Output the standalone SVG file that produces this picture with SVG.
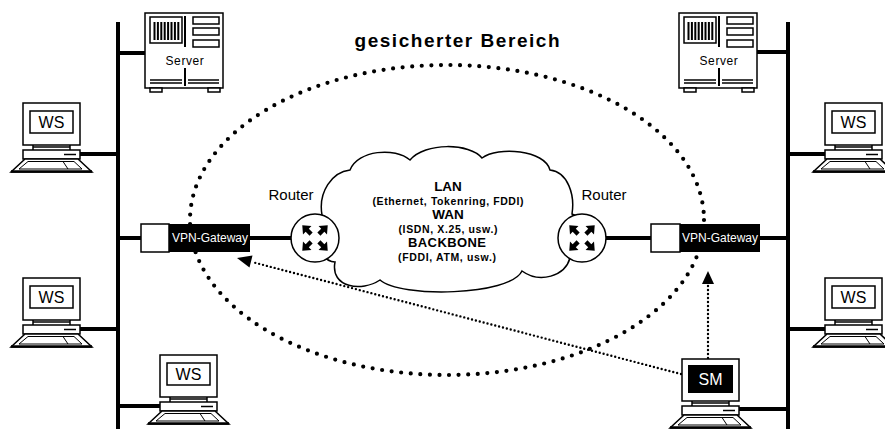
<svg xmlns="http://www.w3.org/2000/svg" xmlns:xlink="http://www.w3.org/1999/xlink" width="885" height="429" viewBox="0 0 885 429">
  <style>
    text { font-family: "Liberation Sans", Arial, sans-serif; fill: #000; }
    .bus { stroke: #000; stroke-width: 4; fill: none; }
    .link { stroke: #000; stroke-width: 4; fill: none; }
    .thin { stroke: #000; stroke-width: 1.5; fill: #fff; }
    .line { stroke: #000; stroke-width: 1.5; fill: none; }
    .lbl { font-size: 15px; text-anchor: middle; }
    .ws { font-size: 16px; text-anchor: middle; }
    .srv { font-size: 12px; text-anchor: middle; letter-spacing: 0.6px; }
    .gw { font-size: 12px; fill: #fff; text-anchor: middle; }
    .net { font-size: 13.5px; font-weight: bold; text-anchor: middle; }
    .netb { font-size: 13px; font-weight: bold; text-anchor: middle; }
    .netsub { font-size: 10.5px; font-weight: bold; text-anchor: middle; }
    .zone { stroke: #000; stroke-width: 4.2; fill: none; stroke-linecap: round; stroke-dasharray: 0 9.6; }
    .tunnel { stroke: #000; stroke-width: 2.4; fill: none; stroke-linecap: round; stroke-dasharray: 0 4; }
  </style>
  <defs>
    <!-- workstation: monitor, stand, base unit, keyboard (origin = monitor top-left) -->
    <g id="ws-body">
      <rect class="thin" x="0" y="0" width="57" height="42"/>
      <line class="line" x1="10" y1="42" x2="10" y2="47"/>
      <line class="line" x1="47" y1="42" x2="47" y2="47"/>
      <line class="line" x1="10" y1="44" x2="47" y2="44"/>
      <rect class="thin" x="0" y="47" width="57" height="9"/>
      <line stroke="#000" stroke-width="1.5" x1="41" y1="51.5" x2="53" y2="51.5"/>
      <polygon class="thin" points="2,56 55,56 69,69 -12,69"/>
      <polygon fill="none" stroke="#000" stroke-width="1" points="5,58.5 51,58.5 59,66 -4,66"/>
      <line stroke="#000" stroke-width="1" x1="40" y1="58.5" x2="45" y2="66"/>
      <line stroke="#000" stroke-width="2.5" x1="-12" y1="68.5" x2="69" y2="68.5"/>
    </g>
    <!-- server cabinet (origin = top-left) -->
    <g id="server-body">
      <rect class="thin" x="0" y="0" width="78" height="75"/>
      <rect class="thin" x="5" y="4" width="32" height="26"/>
      <g fill="#000">
        <rect x="8.5" y="9" width="2" height="18"/>
        <rect x="11.9" y="9" width="2" height="18"/>
        <rect x="15.3" y="9" width="2" height="18"/>
        <rect x="18.7" y="9" width="2" height="18"/>
        <rect x="22.1" y="9" width="2" height="18"/>
        <rect x="25.5" y="9" width="2" height="18"/>
        <rect x="28.9" y="9" width="2" height="18"/>
        <rect x="32.3" y="9" width="2" height="18"/>
      </g>
      <line stroke="#000" stroke-width="2" x1="40" y1="3" x2="40" y2="34"/>
      <line stroke="#000" stroke-width="2" x1="40" y1="55" x2="40" y2="73"/>
      <rect class="thin" x="48" y="4" width="26" height="7"/>
      <rect class="thin" x="48" y="15" width="26" height="7"/>
      <rect class="thin" x="48" y="27" width="26" height="7"/>
      <line stroke="#000" stroke-width="1.5" x1="5" y1="67" x2="37" y2="67"/>
      <line stroke="#000" stroke-width="1.5" x1="5" y1="70" x2="37" y2="70"/>
      <line stroke="#000" stroke-width="1.5" x1="43" y1="67" x2="74" y2="67"/>
      <line stroke="#000" stroke-width="1.5" x1="43" y1="70" x2="74" y2="70"/>
      <rect class="thin" x="5" y="75" width="12" height="4"/>
      <rect class="thin" x="63" y="75" width="12" height="4"/>
    </g>
    <!-- router symbol: circle with four outward arrows (origin = centre) -->
    <polygon id="r-arrow" fill="#000" points="5.5,-2.2 11,-2.2 11,-6 18,0 11,6 11,2.2 5.5,2.2"/>
    <g id="router-body">
      <circle class="thin" cx="0" cy="0" r="24"/>
      <use xlink:href="#r-arrow" transform="rotate(-45)"/>
      <use xlink:href="#r-arrow" transform="rotate(45)"/>
      <use xlink:href="#r-arrow" transform="rotate(135)"/>
      <use xlink:href="#r-arrow" transform="rotate(-135)"/>
    </g>
  </defs>

  <!-- secured area boundary -->
  <g id="secure-zone">
    <ellipse class="zone" cx="447" cy="220" rx="257" ry="155"/>
    <text x="457" y="47" font-size="19" font-weight="bold" text-anchor="middle" textLength="205" lengthAdjust="spacing">gesicherter Bereich</text>
  </g>

  <!-- network cloud -->
  <g id="network-cloud">
    <path class="thin" d="M 322,215 C 318,192 332,172 350,170 C 358,150 395,147 410,160 C 425,142 470,143 482,158 C 498,146 545,150 550,170 C 568,172 575,195 572,214 C 600,225 600,250 570,258 C 565,276 540,284 522,271 C 510,296 400,298 380,280 C 362,292 330,288 335,262 C 325,262 318,250 320,240 Z"/>
    <text class="net" x="448" y="191">LAN</text>
    <text class="netsub" x="448" y="205" textLength="151" lengthAdjust="spacing">(Ethernet, Tokenring, FDDI)</text>
    <text class="net" x="448" y="219">WAN</text>
    <text class="netsub" x="448" y="233" textLength="99" lengthAdjust="spacing">(ISDN, X.25, usw.)</text>
    <text class="netb" x="447" y="247" textLength="78" lengthAdjust="spacing">BACKBONE</text>
    <text class="netsub" x="447" y="261" textLength="98" lengthAdjust="spacing">(FDDI, ATM, usw.)</text>
  </g>

  <!-- connectors: buses, drops and tunnels -->
  <g id="connectors">
    <line class="bus" x1="118" y1="22" x2="118" y2="429"/>
    <line class="bus" x1="788" y1="22" x2="788" y2="429"/>
    <line class="link" x1="118" y1="53" x2="145" y2="53"/>
    <line class="link" x1="757" y1="52" x2="788" y2="52"/>
    <line class="link" x1="57" y1="154" x2="118" y2="154"/>
    <line class="link" x1="57" y1="329" x2="118" y2="329"/>
    <line class="link" x1="118" y1="406" x2="160" y2="406"/>
    <line class="link" x1="788" y1="154" x2="825" y2="154"/>
    <line class="link" x1="788" y1="329" x2="825" y2="329"/>
    <line class="link" x1="739" y1="409" x2="788" y2="409"/>
    <line class="link" x1="118" y1="238" x2="141" y2="238"/>
    <line class="link" x1="250" y1="238" x2="292" y2="238"/>
    <line class="link" x1="605" y1="238" x2="651" y2="238"/>
    <line class="link" x1="760" y1="238" x2="788" y2="238"/>
    <!-- tunnels from the mobile station -->
    <line class="tunnel" x1="681" y1="374" x2="252" y2="262"/>
    <polygon fill="#000" points="237,258 249.5,267.5 252.5,255.5"/>
    <line class="tunnel" x1="708" y1="358" x2="708" y2="285"/>
    <polygon fill="#000" points="708,271 702,284 714,284"/>
  </g>

  <!-- servers -->
  <g id="server-left" transform="translate(145,13)">
    <use xlink:href="#server-body"/>
    <text class="srv" x="40" y="52">Server</text>
  </g>
  <g id="server-right" transform="translate(679,13)">
    <use xlink:href="#server-body"/>
    <text class="srv" x="40" y="52">Server</text>
  </g>

  <!-- workstations -->
  <g id="ws-left-1" transform="translate(23,103)">
    <use xlink:href="#ws-body"/>
    <rect class="thin" x="7" y="8" width="43" height="22"/>
    <text class="ws" x="28.5" y="25">WS</text>
  </g>
  <g id="ws-left-2" transform="translate(23,278)">
    <use xlink:href="#ws-body"/>
    <rect class="thin" x="7" y="8" width="43" height="22"/>
    <text class="ws" x="28.5" y="25">WS</text>
  </g>
  <g id="ws-bottom" transform="translate(160,355)">
    <use xlink:href="#ws-body"/>
    <rect class="thin" x="7" y="8" width="43" height="22"/>
    <text class="ws" x="28.5" y="25">WS</text>
  </g>
  <g id="ws-right-1" transform="translate(825,103)">
    <use xlink:href="#ws-body"/>
    <rect class="thin" x="7" y="8" width="43" height="22"/>
    <text class="ws" x="28.5" y="25">WS</text>
  </g>
  <g id="ws-right-2" transform="translate(825,278)">
    <use xlink:href="#ws-body"/>
    <rect class="thin" x="7" y="8" width="43" height="22"/>
    <text class="ws" x="28.5" y="25">WS</text>
  </g>
  <g id="sm-station" transform="translate(682,359)">
    <use xlink:href="#ws-body"/>
    <rect x="6" y="6" width="45" height="28" fill="#000"/>
    <text class="ws" x="28.5" y="26" style="fill:#fff">SM</text>
  </g>

  <!-- VPN gateways -->
  <g id="gateway-left">
    <rect class="thin" x="141" y="224" width="28" height="28" stroke="#333"/>
    <rect x="169" y="224" width="81" height="28" fill="#000"/>
    <text class="gw" x="210" y="242">VPN-Gateway</text>
  </g>
  <g id="gateway-right">
    <rect class="thin" x="651" y="224" width="29" height="28" stroke="#333"/>
    <rect x="680" y="224" width="80" height="28" fill="#000"/>
    <text class="gw" x="720" y="242">VPN-Gateway</text>
  </g>

  <!-- routers -->
  <g id="router-left">
    <use xlink:href="#router-body" transform="translate(315,238)"/>
    <text class="lbl" x="291" y="200">Router</text>
  </g>
  <g id="router-right">
    <use xlink:href="#router-body" transform="translate(582,238)"/>
    <text class="lbl" x="604" y="200">Router</text>
  </g>
</svg>
